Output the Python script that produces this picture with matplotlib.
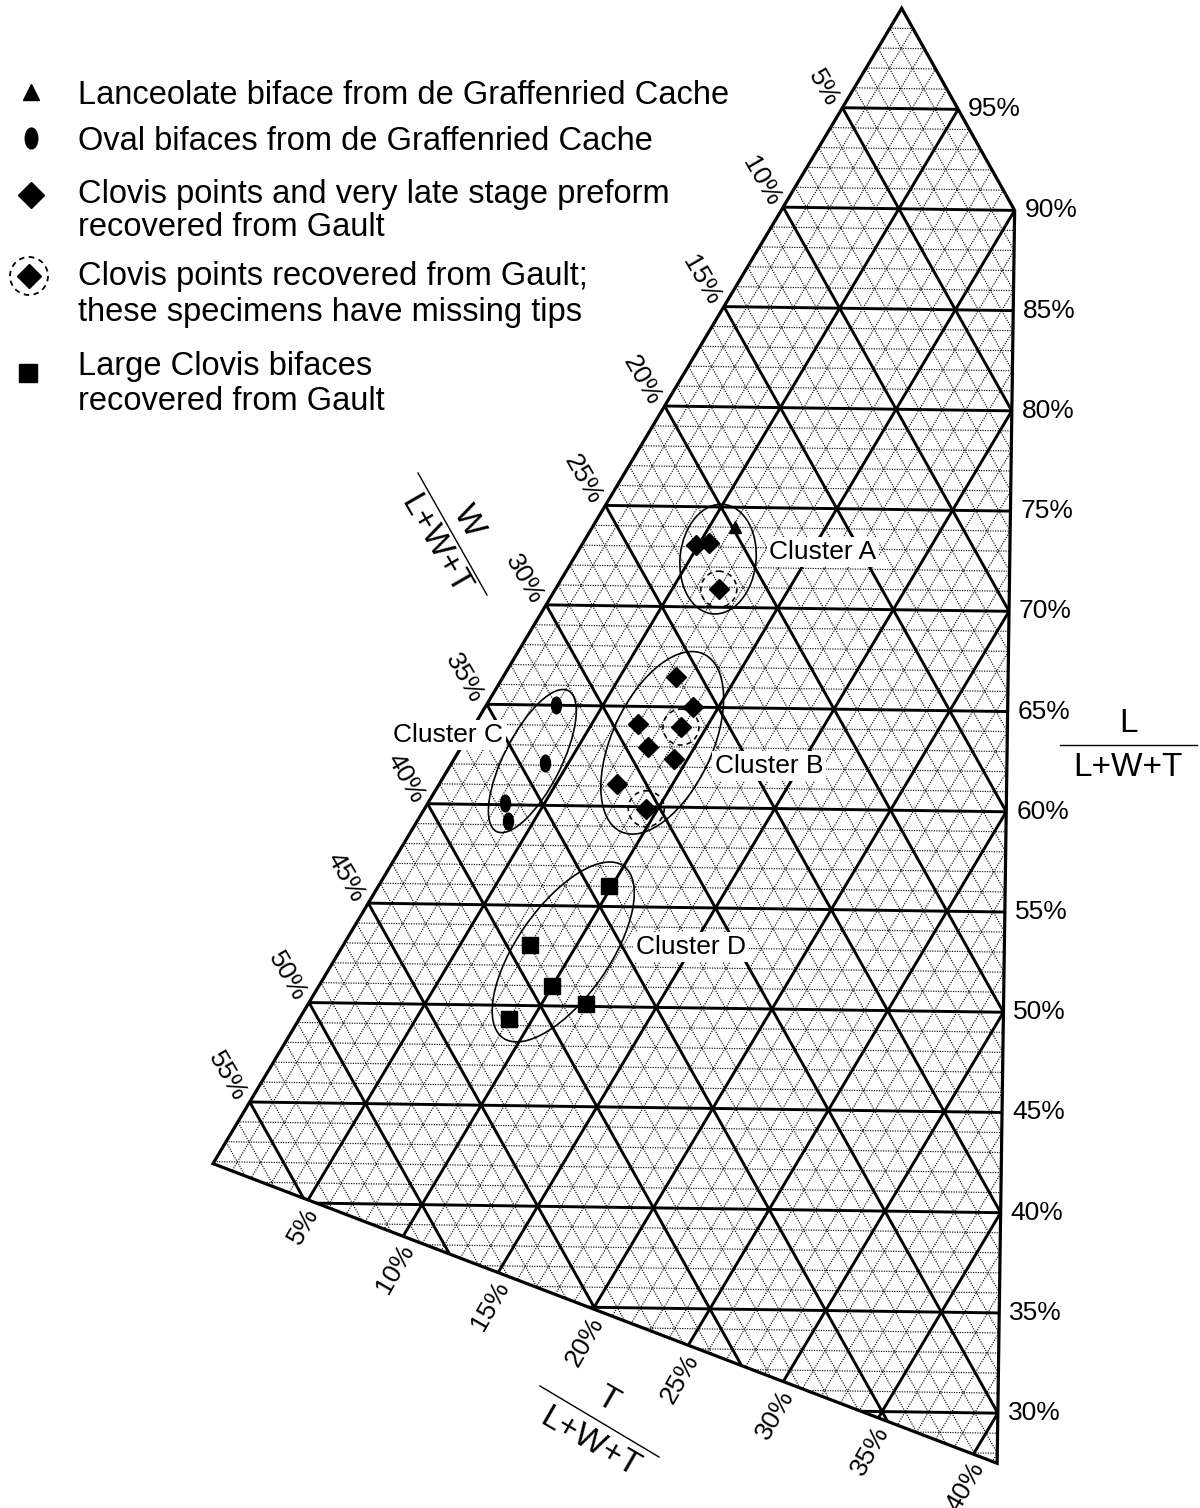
import numpy as np
import matplotlib
matplotlib.use("Agg")
import matplotlib.pyplot as plt
from matplotlib.collections import LineCollection
from matplotlib.patches import Polygon, Ellipse, Circle
from matplotlib.path import Path

plt.rcParams['font.family'] = ['Liberation Sans', 'DejaVu Sans']

# ---- measurements, percent of L+W+T (W = 100 - L - T) ----
lanceolate_L = [74.0]
lanceolate_T = [6.1]
oval_L = [65.0, 62.1, 60.1, 59.2]
oval_T = [3.0, 4.0, 3.3, 3.9]
clovis_L = [73.1, 73.2, 66.5, 65.0, 64.1, 63.0, 62.4, 61.1]
clovis_T = [4.9, 5.4, 7.4, 8.9, 7.0, 8.0, 9.4, 7.6]
tipless_L = [70.9, 64.0, 59.9]
tipless_T = [7.0, 8.9, 9.5]
large_L = [56.0, 53.0, 51.0, 50.1, 49.3]
large_T = [9.9, 8.0, 10.0, 11.9, 9.0]

# cluster outlines: centre (L, T)
cluster_names = ["Cluster A", "Cluster B", "Cluster C", "Cluster D"]
cluster_L = [72.4, 63.2, 62.2, 52.7]
cluster_T = [6.2, 8.5, 3.4, 9.6]

# axis tick labels
L_ticks = [95, 90, 85, 80, 75, 70, 65, 60, 55, 50, 45, 40, 35, 30]
W_ticks = [5, 10, 15, 20, 25, 30, 35, 40, 45, 50, 55]
T_ticks = [5, 10, 15, 20, 25, 30, 35, 40]

legend_entries = [
    ["Lanceolate biface from de Graffenried Cache"],
    ["Oval bifaces from de Graffenried Cache"],
    ["Clovis points and very late stage preform", "recovered from Gault"],
    ["Clovis points recovered from Gault;", "these specimens have missing tips"],
    ["Large Clovis bifaces", "recovered from Gault"],
]

# ---- ternary projection (L at the top, T=0 on the upper-left edge) ----
APEX = (901.7, 8.3)
SIDE = 2315.0
TILT = np.deg2rad(0.8)


def project(L, T):
    L = np.asarray(L, float) / 100.0
    T = np.asarray(T, float) / 100.0
    u = (T + L / 2.0 - 0.5) * SIDE
    v = (1.0 - L) * np.sqrt(3) / 2.0 * SIDE
    x = APEX[0] + u * np.cos(TILT) - v * np.sin(TILT)
    y = APEX[1] + u * np.sin(TILT) + v * np.cos(TILT)
    return x, y


# plotted region of the triangle: (L, T) corners
region_L = [100.0, 90.0, 27.5, 41.9]
region_T = [0.0, 10.0, 41.25, 0.0]

fig = plt.figure(figsize=(12, 15.08), dpi=100)
ax = fig.add_axes([0, 0, 1, 1])
ax.set_xlim(0, 1200)
ax.set_ylim(1508, 0)
ax.axis('off')

rx, ry = project(region_L, region_T)
region = Polygon(np.column_stack([rx, ry]), closed=True, facecolor='none',
                 edgecolor='black', lw=2.3, zorder=3, joinstyle='miter')
ax.add_patch(region)

fine, bold = [], []
for k in range(1, 100):
    segs = [
        [project(k, 0), project(k, 100 - k)],          # constant L
        [project(0, k), project(100 - k, k)],          # constant T
        [project(0, 100 - k), project(100 - k, 0)],    # constant W
    ]
    (bold if k % 5 == 0 else fine).extend(segs)

lc_fine = LineCollection(fine, colors='0.05', linewidths=0.85,
                         linestyles=[(0, (1.0, 1.1))], zorder=1)
lc_bold = LineCollection(bold, colors='black', linewidths=2.1, zorder=2)
for lc in (lc_fine, lc_bold):
    ax.add_collection(lc)
    lc.set_clip_path(region)

# ---- tick labels ----
for v in L_ticks:
    T_edge = max(0.0, 55.0 - v / 2.0) if v < 90 else 100.0 - v
    x, y = project(v, T_edge)
    ax.text(x + 10, y, f"{v}%", fontsize=19, ha='left', va='center')

for v in W_ticks:
    x, y = project(100 - v, 0)
    ax.text(x - 9, y - 3, f"{v}%", fontsize=19, ha='right', va='center',
            rotation=-60, rotation_mode='anchor')

# bottom edge: intersection of T lines with the lower boundary
for v in T_ticks:
    t = v / region_T[2]
    Lb = region_L[3] + (region_L[2] - region_L[3]) * t
    x, y = project(Lb, v)
    ax.text(x + 5, y + 10, f"{v}%", fontsize=19, ha='right', va='center',
            rotation=60, rotation_mode='anchor')

# ---- axis titles (fractions) ----
ax.plot([1060, 1197], [745, 745], color='black', lw=1.0)
ax.text(1128, 723, "L", fontsize=24, ha='center', va='center')
ax.text(1128, 767, "L+W+T", fontsize=24, ha='center', va='center')

ax.plot([418, 487], [473, 595], color='black', lw=1.0)
ax.text(468, 521, "W", fontsize=24, ha='center', va='center', rotation=-60)
ax.text(435, 545, "L+W+T", fontsize=24, ha='center', va='center', rotation=-60)

ax.plot([540, 659], [1386, 1457], color='black', lw=1.0)
ax.text(607, 1400, "T", fontsize=24, ha='center', va='center', rotation=-30)
ax.text(590, 1443, "L+W+T", fontsize=24, ha='center', va='center', rotation=-30)

# ---- cluster outlines ----
ell_size = [(110, 76, -84), (196, 100, -65), (158, 57, -63), (210, 92, -55)]
for Lc, Tc, (w, h, a) in zip(cluster_L, cluster_T, ell_size):
    cx, cy = project(Lc, Tc)
    ax.add_patch(Ellipse((cx, cy), w, h, angle=a, fill=False,
                         edgecolor='black', lw=1.2, zorder=4))

label_pos = [(823, 552), (769, 766), (448, 735), (691, 947)]
for name, (x, y) in zip(cluster_names, label_pos):
    ax.text(x, y, name, fontsize=19, ha='center', va='center', zorder=6,
            bbox=dict(facecolor='white', edgecolor='none', pad=2))

# ---- data markers ----
oval = Path(Path.unit_circle().vertices * [0.6, 1.0], Path.unit_circle().codes)

x, y = project(lanceolate_L, lanceolate_T)
ax.plot(x, y, ls='none', marker='^', ms=9, color='black', zorder=5)
x, y = project(oval_L, oval_T)
ax.plot(x, y, ls='none', marker=oval, ms=12, color='black', zorder=5)
x, y = project(clovis_L, clovis_T)
ax.plot(x, y, ls='none', marker='D', ms=10, color='black', zorder=5)
x, y = project(tipless_L, tipless_T)
ax.plot(x, y, ls='none', marker='D', ms=10, color='black', zorder=5)
for xi, yi in zip(x, y):
    ax.add_patch(Circle((xi, yi), 18, fill=False, edgecolor='black', lw=1.2,
                        ls=(0, (3, 2.5)), zorder=5))
x, y = project(large_L, large_T)
ax.plot(x, y, ls='none', marker='s', ms=11, color='black', zorder=5)

# ---- legend ----
leg_marker_y = [92, 138, 195, 276, 373]
leg_text_y = [[95], [142], [195, 228], [276, 313], [367, 402]]
ax.plot(31, leg_marker_y[0], marker='^', ms=12, color='black')
ax.plot(31, leg_marker_y[1], marker=oval, ms=15, color='black')
ax.plot(31, leg_marker_y[2], marker='D', ms=13, color='black')
ax.plot(29, leg_marker_y[3], marker='D', ms=12, color='black')
ax.add_patch(Circle((29, leg_marker_y[3]), 19, fill=False, edgecolor='black',
                    lw=1.3, ls=(0, (3, 2.5))))
ax.plot(28, leg_marker_y[4], marker='s', ms=13, color='black')

for lines, ys in zip(legend_entries, leg_text_y):
    for line, yy in zip(lines, ys):
        ax.text(78, yy, line, fontsize=23.5, ha='left', va='center')

fig.savefig("out.png", dpi=100, facecolor='white')
